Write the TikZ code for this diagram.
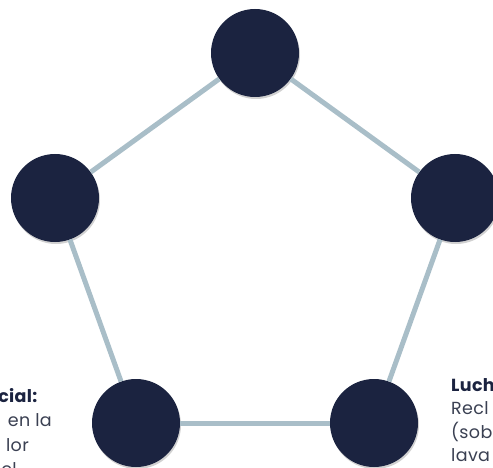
\documentclass[tikz,border=0pt]{standalone}
\usepackage{fontspec}
\setmainfont{Poppins}[LetterSpace=2]
\usepackage{tikz}
\usetikzlibrary{shadows}
\definecolor{navy}{HTML}{1B2340}
\definecolor{steel}{HTML}{A9BEC8}
\definecolor{ink}{HTML}{3A4052}
\tikzset{every shadow/.style={fill=black,opacity=0.18,shadow xshift=1pt,shadow yshift=-2pt}}
\begin{document}
\begin{tikzpicture}[x=1pt,y=-1pt,
  vertex/.style={circle,fill=navy,minimum size=88pt,inner sep=0pt,drop shadow},
  link/.style={draw=steel,line width=5pt},
  note/.style={inner sep=0pt,font=\fontsize{17.5}{24}\selectfont,text=ink}]
\useasboundingbox (0,0) rectangle (493,468);
\clip (0,0) rectangle (493,468);
% \draw[help lines] (0,0) grid (493,468);
\node (v1) [vertex] at (255,53) {};
\node (v2) [vertex] at (55,198) {};
\node (v3) [vertex] at (455,198) {};
\node (v4) [vertex] at (136,423) {};
\node (v5) [vertex] at (374,423) {};
%
\path[link] (v1) edge (v2);
\path[link] (v1) edge (v3);
\path[link] (v2) edge (v4);
\path[link] (v3) edge (v5);
\path[link] (v4) edge (v5);
%
\node (l1) [note,anchor=base east,text=navy] at (38,402) {\textbf{cial:}};
\node (l2) [note,anchor=base east] at (52,426.5) {en la};
\node (l3) [note,anchor=base east] at (29,451) {lor};
\node (l4) [note,anchor=base east] at (17,475.5) {el};
%
\node (r1) [note,anchor=base west,text=navy] at (451,391) {\textbf{Luch}};
\node (r2) [note,anchor=base west] at (451,414.5) {Recl};
\node (r3) [note,anchor=base west] at (451,438) {(sob};
\node (r4) [note,anchor=base west] at (451,461.5) {lava};
\end{tikzpicture}
\end{document}
